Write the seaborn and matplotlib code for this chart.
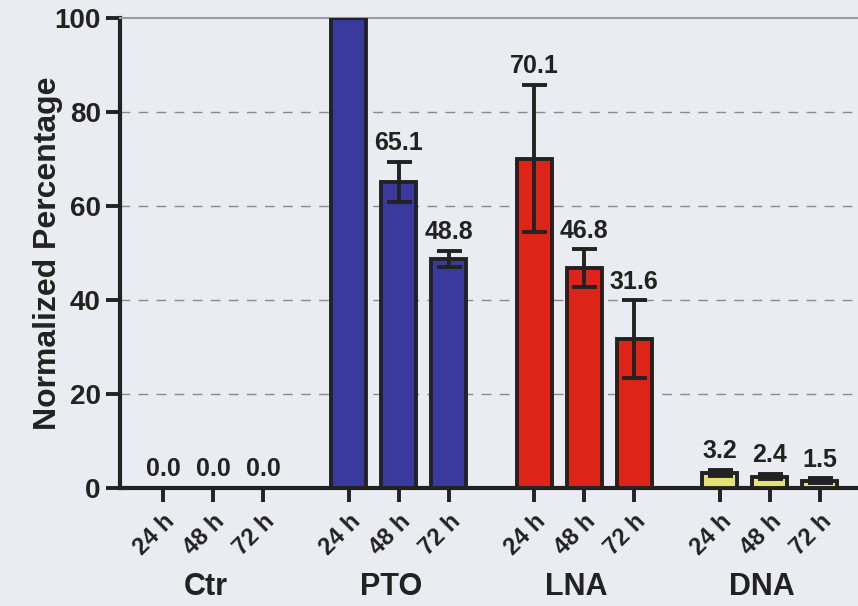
import matplotlib
matplotlib.use("Agg")
import matplotlib.pyplot as plt
import matplotlib.transforms as mtransforms
import numpy as np
import pandas as pd
import seaborn as sns

# Knockdown data: treatment groups x time points
groups = ["Ctr", "PTO", "LNA", "DNA"]
times = ["24 h", "48 h", "72 h"]
ctr_vals = [0.0, 0.0, 0.0]
pto_vals = [100.0, 65.1, 48.8]
lna_vals = [70.1, 46.8, 31.6]
dna_vals = [3.2, 2.4, 1.5]
ctr_err = [0.0, 0.0, 0.0]
pto_err = [0.0, 4.3, 1.7]
lna_err = [15.7, 4.0, 8.3]
dna_err = [0.6, 0.6, 0.5]
colors = {"Ctr": "#9a9a9a", "PTO": "#3a3a9e", "LNA": "#dc2419", "DNA": "#e3e272"}

vals = [ctr_vals, pto_vals, lna_vals, dna_vals]
errs = [ctr_err, pto_err, lna_err, dna_err]
group_step = 3.71

rows = []
for g, name in enumerate(groups):
    for i, t in enumerate(times):
        rows.append({"group": name, "time": t, "pos": round(g * group_step + i, 2),
                     "value": vals[g][i], "err": errs[g][i]})
df = pd.DataFrame(rows)

sns.set_theme(style="white")
bg = "#ebebf2"
ink = "#222222"
plt.rcParams["font.family"] = ["Liberation Sans", "DejaVu Sans"]
plt.rcParams["font.weight"] = "bold"

fig = plt.figure(figsize=(8.58, 6.06), dpi=100, facecolor=bg)
ax = fig.add_axes([0.14, 0.195, 0.86, 0.775])
ax.set_facecolor(bg)

sns.barplot(data=df, x="pos", y="value", hue="group", palette=colors,
            native_scale=True, width=0.7, dodge=False, errorbar=None,
            saturation=1, edgecolor=ink, linewidth=2.8, legend=False,
            ax=ax, zorder=3)

ax.errorbar(df["pos"], df["value"], yerr=df["err"], fmt="none",
            ecolor=ink, elinewidth=2.8, capsize=9, capthick=2.8, zorder=4)

ymax = 100
for _, r in df.iterrows():
    y = r["value"] + r["err"] + 1.4
    if y < ymax - 3:
        ax.text(r["pos"], y, f"{r['value']:.1f}", ha="center", va="bottom",
                fontsize=18, fontweight="bold", color=ink, zorder=5)

ax.set_ylim(0, ymax)
ax.set_xlim(-0.86, 13.9)
ax.set_yticks([0, 20, 40, 60, 80, 100])
ax.set_yticklabels(["0", "20", "40", "60", "80", "100"], fontsize=20,
                   fontweight="bold", color=ink)
ax.set_xticks(df["pos"])
ax.set_xticklabels(df["time"], rotation=45, ha="right", rotation_mode="anchor",
                   fontsize=17, fontweight="bold", color=ink)
ax.tick_params(axis="both", direction="out", length=10, width=2.8, color=ink,
               bottom=True, left=True, pad=4)
ax.tick_params(axis="x", pad=6)

for y in [20, 40, 60, 80]:
    ax.axhline(y, color="#8a8a90", lw=1.0, ls=(0, (7, 6)), zorder=1)

for side in ["left", "bottom"]:
    ax.spines[side].set_color(ink)
    ax.spines[side].set_linewidth(3)
ax.spines["top"].set_color("#9a9aa0")
ax.spines["top"].set_linewidth(1.5)
ax.spines["right"].set_visible(False)

ax.set_xlabel("")
ax.set_ylabel("Normalized Percentage", fontsize=23, fontweight="bold",
              color=ink, labelpad=-6)

trans = mtransforms.blended_transform_factory(ax.transData, ax.transAxes)
for g, name in enumerate(groups):
    ax.text(g * group_step + 0.85, -0.212, name, transform=trans, ha="center",
            va="center", fontsize=22, fontweight="bold", color=ink)

fig.savefig("out.png", dpi=100, facecolor=bg)
